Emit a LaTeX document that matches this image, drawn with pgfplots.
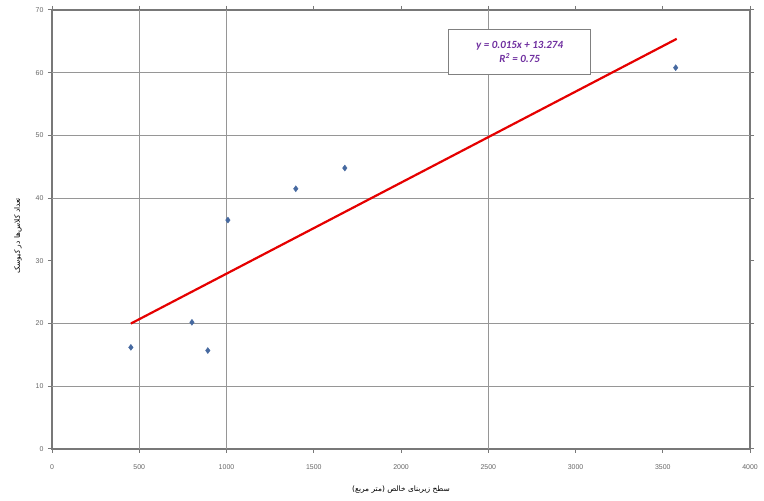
\documentclass[border=0pt]{standalone}
\usepackage{fontspec}
\setmainfont{Liberation Sans}
\newfontfamily\arabicfont[Script=Arabic]{DejaVu Sans}
\newfontfamily\eqfont{Carlito}
\TeXXeTstate=1
\usepackage{pgfplots}
\pgfplotsset{compat=1.18}
\definecolor{gridgray}{RGB}{150,150,150}
\definecolor{axgray}{RGB}{120,120,120}
\definecolor{ptblue}{RGB}{70,105,160}
\definecolor{eqpurple}{RGB}{112,48,160}
\pgfplotstableread{
x y
452 16.2
802 20.2
893 15.7
1008 36.5
1397 41.5
1678 44.8
3574 60.8
}\ptdata
\pgfplotstableread{
x y
452 20.0
3580 65.4
}\trend
\begin{document}
\begin{tikzpicture}[x=1bp,y=1bp]
\path[use as bounding box] (0,0) rectangle (764,501);
\begin{axis}[
  at={(52bp,52bp)}, anchor=south west,
  scale only axis, width=698bp, height=439bp,
  xmin=0, xmax=4000, ymin=0, ymax=70,
  xtick={0,500,...,4000}, ytick={0,10,...,70},
  /pgf/number format/assume math mode=true,
  /pgf/number format/1000 sep={},
  tick label style={font=\fontsize{7}{8}\selectfont, text=black!60},
  tick align=outside, tickwidth=4bp,
  tick style={axgray, line width=1pt},
  axis line style={axgray, line width=1.5pt},
  extra x ticks={500,1000,2500}, extra x tick labels={},
  extra x tick style={grid=major, major grid style={gridgray, line width=0.9pt}},
  extra y ticks={10,20,40,50,60}, extra y tick labels={},
  extra y tick style={grid=major, major grid style={gridgray, line width=0.9pt}},
  xticklabel style={yshift=-8bp},
  yticklabel style={xshift=-1bp},
  xlabel={\arabicfont\fontsize{7.5}{9}\selectfont\beginR سطح زیربنای خالص (متر مربع)\endR},
  ylabel={\arabicfont\fontsize{7.5}{9}\selectfont\beginR تعداد کلاس‌ها در کیوسک\endR},
  xlabel style={at={(axis description cs:0.5,0)}, anchor=center, yshift=-41bp},
  ylabel style={at={(axis description cs:0,0.5)}, anchor=center, yshift=34bp, xshift=-6bp},
  clip=false,
]
\addplot[only marks, mark=diamond*, mark size=3bp, color=ptblue] table[x=x,y=y]{\ptdata};
\addplot[red!90!black, line width=2.2bp] table[x=x,y=y]{\trend};
\node[draw=gray, line width=1pt, fill=white, align=center, inner sep=3bp,
      minimum width=142bp, minimum height=45bp, text=eqpurple,
      font=\eqfont\bfseries\itshape\fontsize{11}{14}\selectfont]
  at (axis cs:2680,63.3) {y = 0.015x + 13.274\\R\textsuperscript{2} = 0.75};
\end{axis}
\end{tikzpicture}
\end{document}
